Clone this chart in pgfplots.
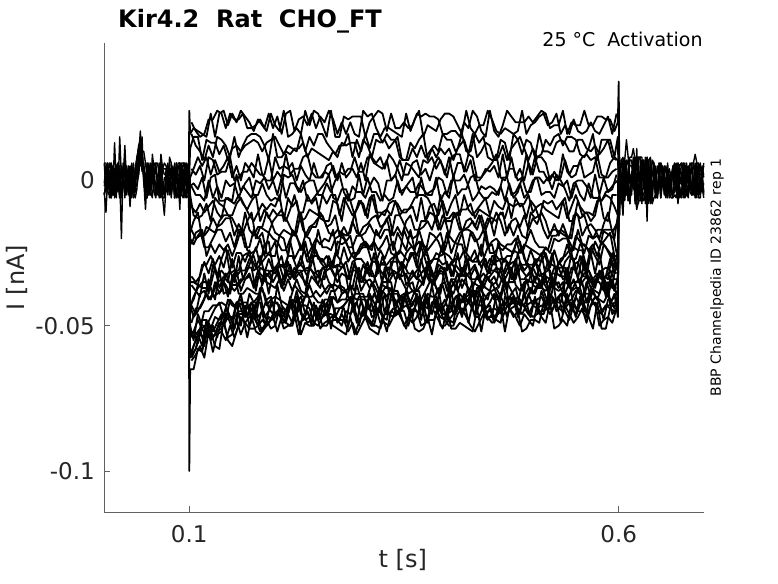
\documentclass[border=0pt]{standalone}
\usepackage{fontspec}
\setmainfont{DejaVu Sans}
\usepackage{pgfplots}
\usepackage{pgfplotstable}
\pgfplotsset{compat=1.18}
\definecolor{axtext}{rgb}{0.15,0.15,0.15}
\definecolor{axline}{rgb}{0.38,0.38,0.38}
\pgfplotsset{trace/.style={black, solid, line width=1.8pt, line join=round, no markers},
  basetrace/.style={black, solid, line width=1.4pt, line join=round, no markers}}

% currents in pA, time in ms (tick labels give nA and s)
\pgfplotstableread{
t a b c d e f g h i j k l m n o p
99.5 1 -2 2 0 -1 3 -3 1 0 -2 2 -1 1 0 -2 1
100 24 2 -1 3 0 -2 1 -3 2 0 -1 1 -2 3 0 -100
101 16 11 1 -2 -5 -18 -20 -35 -43 -44 -43 -50 -54 -53 -61 -65
105 18 15 4 -1 -12 -14 -22 -35 -41 -40 -47 -55 -52 -52 -57 -65
110 17 15 8 -3 -13 -11 -19 -36 -36 -37 -45 -46 -48 -56 -53 -58
115 16 7 5 1 -12 -20 -17 -29 -37 -35 -42 -50 -51 -48 -57 -59
120 15 14 8 -6 -8 -16 -26 -29 -37 -35 -39 -50 -54 -48 -48 -51
125 23 13 2 1 -14 -17 -22 -26 -36 -37 -41 -47 -51 -54 -55 -52
130 15 13 7 2 -6 -18 -25 -29 -30 -41 -35 -44 -47 -53 -53 -57
135 23 9 3 -7 -8 -14 -22 -26 -37 -31 -39 -42 -48 -49 -49 -58
140 24 12 5 -7 -9 -12 -24 -30 -33 -39 -35 -47 -46 -50 -49 -48
145 19 7 8 -6 -12 -12 -22 -24 -35 -38 -40 -41 -46 -47 -54 -55
150 23 11 1 -7 -12 -13 -26 -30 -27 -36 -33 -43 -48 -51 -53 -57
155 20 12 5 2 -8 -16 -22 -25 -33 -36 -31 -44 -42 -42 -48 -52
160 24 10 0 -4 -6 -19 -17 -25 -31 -34 -38 -39 -41 -50 -53 -47
165 22 12 6 -1 -9 -11 -23 -28 -31 -34 -34 -46 -47 -43 -49 -49
170 20 13 4 1 -12 -17 -23 -24 -27 -32 -33 -39 -46 -50 -47 -51
175 17 14 1 -5 -14 -19 -17 -31 -26 -37 -36 -42 -43 -47 -45 -51
180 21 13 9 -5 -11 -16 -20 -30 -31 -33 -31 -40 -47 -50 -48 -50
185 19 10 2 -1 -8 -16 -18 -28 -33 -34 -36 -37 -45 -44 -52 -48
190 17 13 0 -5 -10 -11 -25 -26 -33 -35 -32 -43 -41 -48 -48 -50
195 23 14 0 -7 -8 -14 -26 -24 -31 -36 -34 -41 -40 -42 -51 -48
200 19 15 8 -6 -9 -18 -26 -21 -32 -37 -30 -40 -46 -42 -50 -46
205 17 12 4 -7 -5 -19 -19 -29 -29 -34 -33 -41 -44 -43 -44 -46
210 24 9 5 2 -14 -17 -20 -30 -34 -36 -38 -42 -44 -49 -46 -51
215 15 12 4 1 -6 -18 -26 -26 -28 -31 -34 -43 -46 -46 -43 -50
220 16 11 6 2 -9 -19 -17 -26 -33 -32 -38 -44 -41 -49 -42 -50
225 18 10 0 -2 -7 -18 -19 -30 -31 -31 -34 -38 -42 -40 -46 -45
230 16 16 5 -4 -14 -11 -24 -29 -26 -31 -38 -44 -40 -46 -43 -53
235 24 10 2 -1 -13 -19 -19 -21 -31 -36 -39 -40 -46 -48 -43 -49
240 19 15 0 0 -10 -16 -20 -28 -31 -30 -30 -36 -41 -47 -44 -50
245 24 12 6 0 -11 -15 -25 -22 -26 -32 -32 -40 -45 -42 -49 -50
250 23 16 1 -5 -12 -13 -17 -27 -26 -36 -31 -42 -47 -48 -50 -45
255 19 16 1 -5 -5 -12 -23 -27 -28 -30 -36 -42 -41 -47 -47 -50
260 15 13 5 -1 -8 -16 -23 -30 -26 -31 -39 -43 -46 -46 -42 -50
265 24 11 6 -4 -5 -15 -24 -28 -30 -30 -36 -38 -46 -40 -51 -47
270 15 9 1 0 -5 -12 -20 -30 -25 -33 -36 -38 -47 -47 -44 -47
275 15 12 3 2 -12 -19 -19 -29 -27 -31 -37 -36 -44 -48 -44 -48
280 22 12 2 -4 -6 -16 -20 -23 -30 -29 -38 -37 -43 -43 -44 -48
285 21 16 4 -7 -9 -19 -23 -28 -34 -37 -39 -40 -41 -41 -50 -52
290 22 8 4 -2 -12 -14 -23 -25 -28 -37 -31 -43 -40 -42 -43 -49
295 22 14 1 -4 -10 -18 -19 -25 -27 -30 -31 -36 -41 -49 -42 -53
300 22 10 6 -4 -7 -19 -19 -22 -27 -35 -38 -41 -41 -41 -47 -50
305 15 16 0 -6 -12 -18 -22 -21 -29 -34 -35 -41 -46 -47 -46 -47
310 20 11 9 -2 -6 -15 -23 -23 -33 -37 -34 -44 -39 -39 -48 -51
315 22 16 6 1 -5 -18 -21 -22 -25 -35 -36 -39 -42 -46 -50 -52
320 24 16 5 -1 -13 -19 -24 -29 -32 -28 -39 -42 -45 -39 -44 -53
325 23 13 4 -7 -11 -16 -22 -29 -26 -36 -34 -35 -38 -47 -47 -47
330 17 16 7 0 -10 -13 -19 -29 -31 -37 -30 -35 -40 -48 -45 -52
335 23 14 0 0 -12 -19 -25 -27 -30 -28 -30 -35 -37 -39 -41 -45
340 18 14 2 2 -7 -12 -26 -26 -25 -28 -34 -43 -46 -43 -41 -46
345 18 8 7 -4 -12 -12 -25 -24 -34 -28 -33 -41 -45 -40 -45 -44
350 20 7 2 -3 -10 -15 -17 -26 -29 -32 -36 -40 -40 -39 -50 -45
355 18 7 2 -1 -10 -18 -21 -28 -32 -34 -39 -36 -44 -43 -47 -50
360 19 11 6 1 -9 -20 -23 -25 -32 -31 -38 -35 -43 -47 -49 -45
365 23 8 7 -6 -14 -19 -26 -30 -34 -34 -38 -41 -39 -40 -47 -45
370 22 12 2 1 -6 -14 -21 -22 -27 -32 -36 -41 -44 -48 -42 -50
375 23 8 4 -5 -14 -14 -25 -23 -33 -30 -32 -38 -40 -39 -49 -49
380 22 10 0 -4 -9 -11 -18 -28 -29 -34 -35 -35 -46 -44 -48 -45
385 22 12 5 -3 -8 -12 -19 -27 -33 -36 -34 -35 -41 -42 -48 -45
390 21 10 8 1 -12 -17 -21 -27 -27 -29 -32 -39 -37 -45 -43 -48
395 16 16 5 0 -7 -12 -25 -22 -29 -30 -32 -36 -46 -43 -47 -51
400 16 14 1 -5 -12 -14 -18 -30 -28 -31 -38 -41 -46 -48 -49 -44
405 17 14 8 0 -8 -14 -25 -29 -33 -28 -34 -34 -45 -38 -47 -51
410 17 10 9 0 -5 -12 -21 -27 -29 -31 -37 -34 -40 -46 -45 -51
415 15 12 9 0 -12 -17 -18 -27 -31 -33 -33 -41 -39 -43 -41 -49
420 20 14 3 2 -5 -17 -17 -24 -33 -30 -30 -42 -41 -39 -41 -50
425 18 9 9 -2 -10 -16 -17 -26 -27 -28 -39 -41 -37 -42 -49 -51
430 24 16 8 -7 -12 -14 -18 -28 -28 -37 -35 -37 -44 -39 -42 -52
435 22 8 1 -5 -10 -17 -21 -28 -26 -33 -36 -43 -37 -45 -43 -44
440 17 10 1 -2 -8 -12 -26 -22 -30 -36 -37 -35 -36 -40 -43 -52
445 15 13 4 -3 -6 -17 -17 -30 -27 -33 -33 -37 -45 -44 -47 -44
450 24 12 3 -2 -12 -13 -25 -27 -32 -35 -31 -38 -45 -42 -44 -43
455 17 7 5 -3 -7 -19 -25 -29 -26 -33 -31 -41 -44 -39 -49 -48
460 15 8 1 -5 -9 -12 -23 -21 -33 -37 -32 -41 -45 -46 -45 -44
465 19 12 9 1 -10 -11 -24 -28 -28 -33 -35 -37 -36 -42 -44 -47
470 24 7 1 1 -6 -18 -22 -26 -28 -28 -38 -35 -42 -47 -46 -43
475 22 11 8 -5 -13 -14 -22 -26 -31 -34 -30 -38 -39 -41 -44 -45
480 20 13 1 -4 -6 -13 -20 -22 -27 -34 -36 -41 -37 -43 -43 -47
485 20 15 4 -1 -9 -16 -25 -21 -34 -28 -38 -43 -43 -46 -42 -50
490 20 11 0 -6 -8 -12 -22 -27 -34 -31 -35 -40 -43 -38 -43 -46
495 22 7 6 -4 -5 -17 -23 -29 -32 -29 -35 -37 -39 -45 -46 -48
500 20 11 2 0 -11 -13 -24 -29 -30 -36 -30 -39 -43 -47 -43 -50
505 22 8 8 1 -9 -15 -25 -27 -28 -37 -33 -36 -44 -46 -41 -43
510 24 9 8 -5 -8 -11 -26 -28 -25 -37 -37 -37 -43 -38 -40 -47
515 23 14 6 -4 -10 -14 -23 -25 -33 -30 -38 -33 -44 -42 -43 -49
520 18 12 0 -4 -11 -19 -25 -30 -34 -31 -36 -42 -35 -41 -46 -42
525 19 15 3 -6 -12 -15 -20 -24 -30 -37 -37 -34 -36 -42 -43 -51
530 19 16 0 -1 -13 -19 -21 -29 -30 -28 -38 -37 -35 -40 -44 -50
535 24 12 9 -2 -7 -15 -20 -27 -34 -30 -37 -35 -39 -46 -45 -48
540 16 15 3 0 -13 -19 -20 -22 -33 -35 -30 -42 -41 -41 -39 -50
545 20 15 1 -6 -9 -20 -25 -27 -25 -30 -38 -41 -38 -44 -45 -42
550 19 14 2 -1 -5 -11 -19 -27 -32 -31 -35 -38 -37 -46 -40 -47
555 19 9 7 -5 -9 -13 -21 -22 -26 -36 -34 -39 -37 -40 -43 -42
560 24 8 1 -7 -11 -12 -25 -22 -31 -28 -32 -40 -42 -45 -39 -43
565 19 11 2 -1 -11 -17 -19 -24 -31 -34 -31 -33 -42 -45 -39 -47
570 19 16 3 -6 -12 -20 -20 -22 -34 -34 -35 -36 -38 -41 -42 -51
575 22 7 9 -6 -7 -17 -19 -26 -32 -35 -34 -33 -41 -40 -44 -42
580 22 14 2 -7 -7 -17 -22 -21 -34 -31 -31 -33 -37 -45 -46 -51
585 21 14 1 -4 -5 -18 -20 -23 -33 -30 -38 -40 -35 -43 -43 -51
590 21 14 6 -3 -6 -19 -18 -26 -27 -31 -35 -34 -41 -44 -43 -44
595 17 8 8 -1 -9 -20 -26 -30 -32 -34 -38 -37 -44 -42 -39 -45
599 20 15 7 0 -12 -12 -26 -24 -29 -34 -33 -40 -39 -42 -47 -44
600 34 -3 2 -4 1 -2 4 0 -5 3 -1 2 -3 1 5 -2
601 -12 3 -4 5 -1 6 -6 2 4 -3 1 -5 3 -2 0 4
}\steptable

% second sweep set, sampled between the first
\pgfplotstableread{
t a b c d e f g h i j k l m n o p
102.5 20 16 4 -2 -9 -17 -22 -33 -36 -49 -43 -54 -61 -60 -59 -62
107.5 17 12 2 -5 -11 -20 -18 -35 -38 -44 -46 -53 -58 -58 -55 -60
112.5 15 10 5 -5 -8 -19 -17 -33 -40 -44 -39 -51 -53 -52 -51 -57
117.5 16 7 0 -7 -11 -19 -23 -28 -32 -41 -38 -45 -54 -50 -57 -61
122.5 21 12 8 0 -9 -17 -23 -32 -39 -34 -41 -45 -49 -53 -49 -52
127.5 21 8 7 -6 -7 -13 -20 -27 -29 -40 -39 -43 -52 -50 -54 -59
132.5 24 15 2 -2 -11 -16 -17 -33 -33 -39 -35 -43 -49 -54 -52 -53
137.5 23 14 3 -6 -13 -15 -17 -27 -31 -38 -34 -42 -46 -48 -51 -52
142.5 18 12 3 0 -6 -13 -21 -23 -33 -32 -36 -43 -48 -44 -46 -55
147.5 23 8 8 -2 -7 -13 -18 -32 -31 -36 -39 -47 -41 -47 -47 -50
152.5 21 15 0 -1 -8 -19 -23 -31 -35 -38 -32 -47 -43 -51 -51 -54
157.5 21 8 1 -6 -5 -15 -17 -31 -26 -36 -39 -45 -42 -43 -46 -50
162.5 23 12 3 -2 -8 -18 -17 -26 -34 -34 -39 -45 -46 -42 -46 -47
167.5 18 15 3 -4 -10 -14 -24 -25 -31 -30 -37 -47 -44 -42 -46 -54
172.5 18 16 6 -6 -7 -11 -25 -27 -27 -30 -38 -42 -42 -48 -44 -47
177.5 19 16 4 0 -5 -20 -24 -23 -30 -38 -39 -44 -47 -42 -48 -52
182.5 21 15 2 -1 -14 -16 -20 -29 -26 -30 -39 -37 -39 -42 -52 -53
187.5 18 12 2 1 -10 -17 -26 -22 -32 -31 -31 -39 -47 -49 -50 -51
192.5 23 7 8 -3 -13 -18 -18 -21 -27 -31 -39 -44 -45 -49 -47 -49
197.5 18 16 0 0 -10 -14 -20 -30 -31 -35 -31 -46 -42 -46 -48 -47
202.5 22 8 3 -5 -12 -12 -21 -30 -29 -32 -30 -36 -42 -46 -46 -52
207.5 16 8 1 1 -10 -12 -24 -29 -26 -37 -35 -43 -47 -44 -47 -47
212.5 23 10 9 -6 -14 -13 -24 -30 -33 -33 -31 -45 -46 -48 -49 -49
217.5 24 9 2 -1 -10 -16 -20 -21 -29 -32 -34 -41 -42 -40 -43 -50
222.5 17 11 4 -1 -5 -19 -18 -27 -34 -34 -30 -36 -47 -48 -43 -46
227.5 21 11 4 -4 -11 -11 -21 -24 -28 -32 -32 -38 -43 -41 -49 -53
232.5 22 13 8 0 -11 -17 -24 -22 -30 -31 -34 -40 -41 -48 -48 -46
237.5 19 8 9 -7 -5 -19 -26 -28 -33 -30 -37 -40 -39 -45 -45 -49
242.5 23 11 3 -7 -8 -16 -23 -28 -25 -31 -33 -40 -43 -49 -50 -48
247.5 18 10 1 -5 -6 -16 -20 -24 -32 -34 -35 -38 -47 -43 -48 -45
252.5 22 9 1 -3 -13 -11 -22 -28 -34 -31 -37 -40 -43 -47 -44 -51
257.5 20 8 3 -1 -14 -14 -20 -30 -34 -30 -31 -38 -46 -41 -43 -49
262.5 24 7 2 2 -14 -18 -21 -29 -26 -29 -35 -36 -45 -41 -49 -48
267.5 21 10 5 -6 -7 -19 -17 -30 -30 -32 -37 -37 -40 -43 -48 -50
272.5 16 8 0 -7 -8 -17 -26 -21 -29 -35 -30 -42 -42 -49 -48 -51
277.5 20 13 6 -3 -14 -18 -18 -22 -30 -32 -39 -41 -39 -46 -50 -52
282.5 16 12 1 -3 -5 -19 -21 -21 -28 -33 -38 -41 -38 -49 -45 -53
287.5 20 13 3 -7 -7 -18 -19 -25 -34 -34 -36 -36 -42 -40 -46 -47
292.5 16 13 8 -6 -12 -11 -26 -27 -29 -28 -38 -44 -39 -46 -44 -53
297.5 15 8 3 2 -7 -19 -25 -24 -32 -34 -30 -40 -39 -48 -50 -49
302.5 24 14 3 -5 -8 -16 -22 -23 -34 -29 -35 -40 -39 -46 -44 -44
307.5 22 12 8 1 -13 -15 -23 -23 -28 -32 -30 -40 -44 -41 -48 -48
312.5 23 8 8 -4 -5 -13 -24 -28 -33 -28 -31 -35 -45 -47 -50 -50
317.5 18 14 6 -4 -11 -12 -17 -28 -33 -28 -35 -40 -42 -46 -44 -50
322.5 15 13 8 -7 -11 -16 -20 -24 -29 -31 -39 -40 -37 -45 -49 -51
327.5 18 14 4 -5 -12 -15 -17 -27 -28 -33 -30 -37 -46 -39 -49 -46
332.5 18 11 9 -7 -8 -12 -17 -23 -33 -35 -39 -37 -39 -46 -50 -46
337.5 17 13 7 -6 -7 -19 -24 -21 -31 -32 -39 -38 -39 -47 -47 -44
342.5 16 15 4 0 -8 -16 -18 -27 -32 -32 -32 -38 -39 -42 -46 -45
347.5 15 7 0 -5 -11 -19 -21 -30 -30 -28 -33 -42 -45 -40 -44 -48
352.5 23 7 6 -2 -11 -14 -24 -25 -30 -36 -32 -39 -38 -41 -43 -51
357.5 17 13 5 -4 -9 -12 -17 -23 -25 -34 -37 -43 -42 -47 -45 -44
362.5 21 11 3 -4 -6 -17 -24 -23 -25 -32 -39 -41 -38 -44 -44 -51
367.5 24 14 1 -1 -5 -17 -17 -21 -31 -30 -34 -42 -38 -40 -46 -52
372.5 15 16 7 -3 -5 -16 -22 -25 -25 -35 -36 -43 -46 -43 -42 -51
377.5 19 7 6 -5 -6 -14 -24 -30 -26 -28 -30 -44 -39 -40 -49 -47
382.5 18 11 8 -5 -9 -17 -22 -28 -33 -36 -32 -36 -40 -46 -42 -53
387.5 17 8 4 1 -14 -12 -20 -25 -33 -34 -37 -44 -40 -41 -41 -45
392.5 21 11 7 -7 -5 -17 -18 -26 -30 -31 -39 -36 -44 -45 -50 -47
397.5 23 9 2 -4 -13 -13 -24 -25 -31 -32 -30 -35 -41 -43 -50 -48
402.5 23 11 8 -6 -13 -19 -19 -26 -29 -37 -37 -39 -45 -39 -48 -50
407.5 22 7 1 2 -11 -12 -21 -28 -33 -36 -39 -35 -41 -46 -49 -50
412.5 19 11 6 -5 -12 -11 -22 -22 -25 -32 -35 -38 -40 -42 -40 -46
417.5 16 16 6 -3 -10 -18 -18 -22 -33 -37 -30 -34 -42 -47 -46 -44
422.5 24 10 3 -3 -10 -14 -25 -28 -26 -33 -32 -36 -40 -41 -43 -47
427.5 18 10 7 1 -8 -13 -18 -27 -33 -31 -34 -38 -39 -43 -41 -50
432.5 16 16 0 2 -13 -16 -21 -24 -30 -29 -34 -41 -38 -46 -47 -52
437.5 19 13 0 -4 -10 -12 -20 -29 -34 -33 -34 -37 -39 -38 -47 -49
442.5 19 15 2 -6 -11 -17 -17 -27 -28 -37 -32 -39 -42 -45 -43 -46
447.5 24 8 4 -6 -12 -13 -23 -23 -32 -33 -34 -41 -39 -47 -47 -48
452.5 21 7 6 -4 -13 -15 -21 -22 -26 -36 -32 -35 -38 -47 -49 -46
457.5 17 7 9 -5 -14 -11 -20 -28 -26 -35 -30 -39 -37 -39 -48 -47
462.5 16 14 1 -2 -11 -14 -22 -27 -28 -30 -31 -41 -40 -43 -49 -43
467.5 18 13 0 -7 -13 -19 -23 -27 -34 -32 -36 -34 -43 -42 -40 -52
472.5 17 7 4 -1 -8 -15 -24 -29 -31 -29 -35 -43 -40 -43 -41 -44
477.5 16 16 4 -6 -9 -19 -25 -24 -34 -28 -35 -42 -41 -41 -40 -47
482.5 17 14 0 -4 -8 -15 -19 -25 -25 -32 -30 -40 -42 -47 -44 -45
487.5 24 9 1 1 -8 -19 -25 -23 -31 -29 -38 -42 -36 -42 -46 -52
492.5 16 14 9 -4 -13 -20 -21 -29 -33 -29 -34 -34 -42 -45 -43 -51
497.5 19 13 2 -4 -7 -11 -17 -24 -32 -30 -35 -39 -37 -47 -42 -48
502.5 20 8 8 1 -9 -13 -21 -28 -27 -35 -35 -33 -39 -40 -41 -48
507.5 22 16 3 1 -13 -12 -23 -30 -33 -36 -30 -34 -35 -45 -46 -49
512.5 23 10 3 -1 -7 -17 -23 -24 -32 -33 -35 -38 -35 -45 -46 -42
517.5 19 10 0 1 -8 -20 -24 -29 -31 -28 -35 -42 -38 -41 -42 -45
522.5 20 9 2 -3 -7 -17 -19 -29 -25 -37 -32 -33 -40 -40 -45 -42
527.5 23 13 0 2 -10 -17 -19 -30 -32 -30 -32 -42 -42 -45 -41 -42
532.5 16 14 1 0 -8 -18 -17 -27 -33 -30 -33 -42 -39 -43 -39 -49
537.5 19 13 7 -3 -6 -19 -18 -26 -28 -30 -33 -35 -39 -44 -45 -43
542.5 16 10 2 -7 -14 -20 -21 -24 -26 -36 -37 -36 -35 -42 -48 -46
547.5 21 10 5 -1 -14 -12 -24 -23 -27 -29 -34 -35 -43 -42 -43 -49
552.5 17 14 5 0 -7 -12 -17 -24 -34 -28 -38 -35 -37 -45 -45 -47
557.5 16 14 8 0 -12 -19 -22 -24 -26 -33 -35 -35 -41 -40 -45 -44
562.5 17 11 9 -2 -11 -16 -23 -30 -33 -33 -33 -42 -35 -46 -47 -49
567.5 20 10 7 -6 -14 -15 -26 -23 -25 -35 -37 -37 -40 -37 -43 -43
572.5 17 12 8 2 -12 -17 -21 -26 -32 -37 -38 -35 -35 -40 -40 -42
577.5 16 9 1 -5 -5 -20 -24 -29 -25 -31 -39 -33 -35 -41 -42 -50
582.5 19 11 1 1 -13 -15 -17 -22 -33 -34 -33 -34 -38 -42 -48 -48
587.5 22 14 1 -4 -14 -11 -17 -24 -34 -32 -38 -40 -35 -39 -41 -47
592.5 16 8 3 -3 -5 -18 -17 -26 -25 -36 -31 -34 -37 -46 -41 -49
597.5 23 7 4 2 -5 -15 -25 -30 -29 -28 -32 -39 -37 -44 -39 -44
}\steptableb

\pgfplotstableread{
t a b c d e f g h
1 6 4 6 -2 -4 -5 -1 -5
3 -4 4 6 1 -11 -2 5 -1
5 6 6 -2 4 1 -4 5 5
7 -1 1 6 -4 -2 -5 -6 1
9 -4 -6 5 6 6 -6 4 5
11 -1 -4 -5 -5 4 5 2 -4
13 2 13 -5 -2 -4 -6 2 4
15 5 -1 -1 2 -6 5 -4 -2
17 -4 1 -2 1 6 6 1 1
19 15 -1 1 -6 -4 -1 -6 5
21 1 -4 -20 -5 -6 5 -1 -5
23 -1 5 6 1 -1 1 1 1
25 5 5 -5 12 6 6 -2 -6
27 -5 -4 5 -1 4 4 1 2
29 5 -2 -5 2 1 1 2 -1
31 1 2 -1 5 -9 -4 4 -5
33 2 -5 -6 -1 1 2 2 6
35 6 -2 2 -6 4 -1 -2 -4
37 -2 4 -4 -1 1 -4 2 -6
39 4 8 8 -2 7 8 7 -3
41 8 2 11 2 12 5 11 11
43 17 7 11 13 14 5 10 8
45 7 7 3 10 7 15 5 10
47 1 0 3 10 4 -1 6 4
49 -5 -10 -6 6 -1 -5 -1 2
51 4 1 6 1 6 -2 -2 -6
53 -5 4 -2 5 -5 -5 6 1
55 1 -5 -5 5 1 6 -2 -4
57 6 2 9 4 -1 -1 5 -6
59 1 -4 4 -4 -1 6 1 2
61 -2 -6 -5 -5 6 5 6 -5
63 -2 2 -4 -1 -1 -1 6 -5
65 -4 -5 -2 6 -1 -6 2 1
67 4 -5 6 -6 9 6 -1 2
69 4 -6 -4 4 4 -6 -4 -5
71 6 -12 -5 4 2 -6 1 -2
73 5 -1 2 4 2 4 1 -4
75 1 2 5 -5 -4 2 6 -1
77 -4 4 4 8 1 4 -5 -1
79 6 2 -6 6 -5 4 4 -5
81 -1 2 5 -1 -1 4 -2 2
83 -2 -6 -5 -1 2 -6 6 -6
85 -6 4 6 -4 -4 1 -1 6
87 1 -1 -4 -6 -5 4 6 2
89 -10 -5 6 2 -6 6 6 1
91 6 5 -5 -2 2 5 2 -1
93 6 2 -6 1 -5 -4 6 4
95 6 -3 6 -2 5 5 4 -6
97 -5 -6 1 6 4 -2 4 -4
99 -2 -5 5 1 6 -2 -5 4
}\pretable

\pgfplotstableread{
t a b c d e f g h
601 -12 3 8 -8 7 1 -8 -5
603 7 -5 1 -3 -3 -3 -8 -5
605 8 -12 -7 -7 7 -1 -1 3
607 -3 5 7 -3 7 7 -7 5
609 -3 -5 14 7 -3 5 1 -5
611 3 3 8 -7 -1 7 -7 -1
613 8 -8 -1 -5 7 5 -3 -8
615 8 1 3 -5 7 5 1 1
617 11 8 -3 5 1 3 -3 7
619 7 -8 1 -3 -5 -7 8 1
621 -3 -8 -8 11 -10 -7 5 -7
623 8 -8 8 -5 -7 -5 5 7
625 8 1 -7 -1 -7 -5 -3 8
627 -5 3 -1 7 -3 -8 1 8
629 -7 -1 7 7 -5 1 5 -3
631 -5 7 1 -8 -7 -3 -5 8
633 3 -14 7 5 -8 8 8 7
635 -8 7 -5 3 7 5 -7 -7
637 7 8 5 3 -8 -5 -3 -7
639 3 -8 -3 -5 7 -8 3 -1
641 1 -6 1 1 6 6 1 -2
643 -4 -5 5 -6 -1 -4 -6 1
645 -4 -6 -5 -1 5 -6 -5 -5
647 2 6 1 1 1 -1 1 6
649 5 -2 -6 -2 6 6 -6 -5
651 1 2 2 1 4 4 -1 5
653 -4 5 -1 2 1 1 2 -5
655 -6 -4 -5 4 -4 1 5 -1
657 -2 -4 6 2 2 1 -1 -6
659 2 2 -4 -2 -1 4 -6 2
661 -1 -4 -6 2 -4 1 -1 -4
663 2 -6 -6 4 5 4 -5 5
665 1 -5 5 5 -1 6 -4 5
667 6 -6 -1 1 -4 5 4 2
669 -6 6 -8 -4 6 -2 1 -6
671 5 5 -1 1 -6 -1 5 -2
673 1 6 2 -1 -5 -1 6 -6
675 4 1 -6 -2 -2 6 1 6
677 -6 -2 1 6 -5 -5 5 -2
679 -5 2 -4 -2 6 1 5 -5
681 -1 4 -6 5 -1 -1 4 -4
683 -2 4 2 1 6 -1 -4 4
685 -4 -4 -5 6 5 6 -5 -5
687 6 -4 -5 6 -1 -1 -1 -4
689 9 2 1 2 -6 -1 6 -2
691 6 -2 2 -1 6 4 -6 6
693 6 4 -5 -4 -6 4 4 -4
695 -4 6 -2 1 -6 2 4 -5
697 5 -2 -4 1 4 2 4 2
699 1 -6 -1 6 2 -4 -5 5
}\posttable

\begin{document}
\begin{tikzpicture}
\useasboundingbox (-104pt,-71pt) rectangle (674pt,512pt);
\begin{axis}[
  scale only axis, width=600pt, height=469pt,
  xmin=0.7, xmax=699.3, ymin=-114.1, ymax=47.3,
  clip=false,
  axis x line*=bottom, axis y line*=left,
  axis line style={-, draw=axline, line width=0.7pt},
  xtick={100,600}, xticklabels={0.1,0.6},
  ytick={-100,-50,0}, yticklabels={-0.1,-0.05,0},
  minor tick num=0,
  tick align=inside, major tick length=6pt,
  tick style={draw=axline, line width=0.7pt},
  tick label style={font=\fontsize{23}{27}\selectfont, text=axtext},
  xticklabel style={anchor=north, inner sep=0pt, yshift=-13pt},
  yticklabel style={anchor=east, inner sep=0pt, xshift=-9pt},
  xlabel={t [s]}, ylabel={I [nA]},
  label style={font=\fontsize{24}{29}\selectfont, text=axtext},
  xlabel style={at={(axis description cs:0.498,-0.1173)}, anchor=base, inner sep=0pt},
  ylabel style={at={(axis description cs:-0.1317,0.5)}, anchor=base, inner sep=0pt},
]
\pgfplotsinvokeforeach{a,b,c,d,e,f,g,h}{
  \addplot[basetrace] table[x=t,y=#1]{\pretable};
  \addplot[basetrace] table[x=t,y=#1]{\posttable};
}
\pgfplotsinvokeforeach{a,b,c,d,e,f,g,h,i,j,k,l,m,n,o,p}{
  \addplot[trace] table[x=t,y=#1]{\steptable};
  \addplot[trace] table[x=t,y=#1]{\steptableb};
}
\node[anchor=base west, font=\fontsize{24}{29}\selectfont\bfseries, inner sep=0pt]
  at (axis description cs:0.0233,1.034) {Kir4.2~~Rat~~CHO\_FT};
\node[anchor=base east, font=\fontsize{19}{23}\selectfont, inner sep=0pt]
  at (axis description cs:0.998,0.9915) {25 °C~~Activation};
\node[anchor=base, rotate=90, font=\fontsize{14}{17}\selectfont, inner sep=0pt]
  at (axis description cs:1.028,0.5) {BBP Channelpedia ID 23862 rep 1};
\end{axis}
\end{tikzpicture}
\end{document}
